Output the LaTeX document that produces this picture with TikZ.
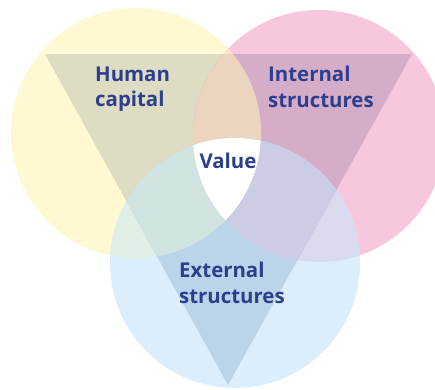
\documentclass[tikz,border=0pt]{standalone}
\usepackage{fontspec}
\setsansfont{Open Sans}

\definecolor{humanfill}{RGB}{255,249,211}
\definecolor{internalfill}{RGB}{247,199,221}
\definecolor{externalfill}{RGB}{220,238,251}
\definecolor{hifill}{RGB}{251,227,206}
\definecolor{hefill}{RGB}{223,239,230}
\definecolor{iefill}{RGB}{218,218,238}
\definecolor{thfill}{RGB}{222,220,195}
\definecolor{tifill}{RGB}{214,173,201}
\definecolor{tefill}{RGB}{188,212,232}
\definecolor{thifill}{RGB}{236,213,190}
\definecolor{thefill}{RGB}{209,227,224}
\definecolor{tiefill}{RGB}{204,204,228}
\definecolor{labeltext}{RGB}{43,63,143}

\newcommand\vennlabelstyle{\sffamily\bfseries\fontsize{20.4}{25.5}\selectfont}
\newcommand\vennhuman{(136,133) circle (125)}
\newcommand\venninternal{(319,136) circle (126)}
\newcommand\vennexternal{(235,263) circle (125)}
\newcommand\venntriangle{(45,54) -- (412,54) -- (228,385) -- cycle}
\newcommand\vennlens[3]{
  \begin{scope}
    \clip #1 ;
    \fill[#3] #2 ;
  \end{scope}
}

\tikzset{vennlabel/.style={text=labeltext, align=left, inner sep=0pt, font=\vennlabelstyle}}

\begin{document}
\begin{tikzpicture}[x=1pt, y=-1pt]
    \useasboundingbox (0,0) rectangle (435,389) ;
    \clip (0,0) rectangle (435,389) ;
    \fill[humanfill] \vennhuman ;
    \fill[internalfill] \venninternal ;
    \fill[externalfill] \vennexternal ;
    \vennlens{\vennhuman}{\venninternal}{hifill}
    \vennlens{\vennhuman}{\vennexternal}{hefill}
    \vennlens{\venninternal}{\vennexternal}{iefill}
    \begin{scope} % triangle
      \clip \venntriangle ;
      \fill[thfill] \vennhuman ;
      \fill[tifill] \venninternal ;
      \fill[tefill] \vennexternal ;
      \vennlens{\vennhuman}{\venninternal}{thifill}
      \vennlens{\vennhuman}{\vennexternal}{thefill}
      \vennlens{\venninternal}{\vennexternal}{tiefill}
    \end{scope}
    \begin{scope} % centre
      \clip \vennhuman ;
      \clip \venninternal ;
      \fill[white] \vennexternal ;
    \end{scope}
    \node[vennlabel, anchor=west] (human) at (95,89) {Human\\capital} ;
    \node[vennlabel, anchor=west] (internal) at (268,87) {Internal\\structures} ;
    \node[vennlabel] (value) at (228,161) {Value} ;
    \node[vennlabel, anchor=west] (external) at (179,283) {External\\structures} ;
\end{tikzpicture}
\end{document}
